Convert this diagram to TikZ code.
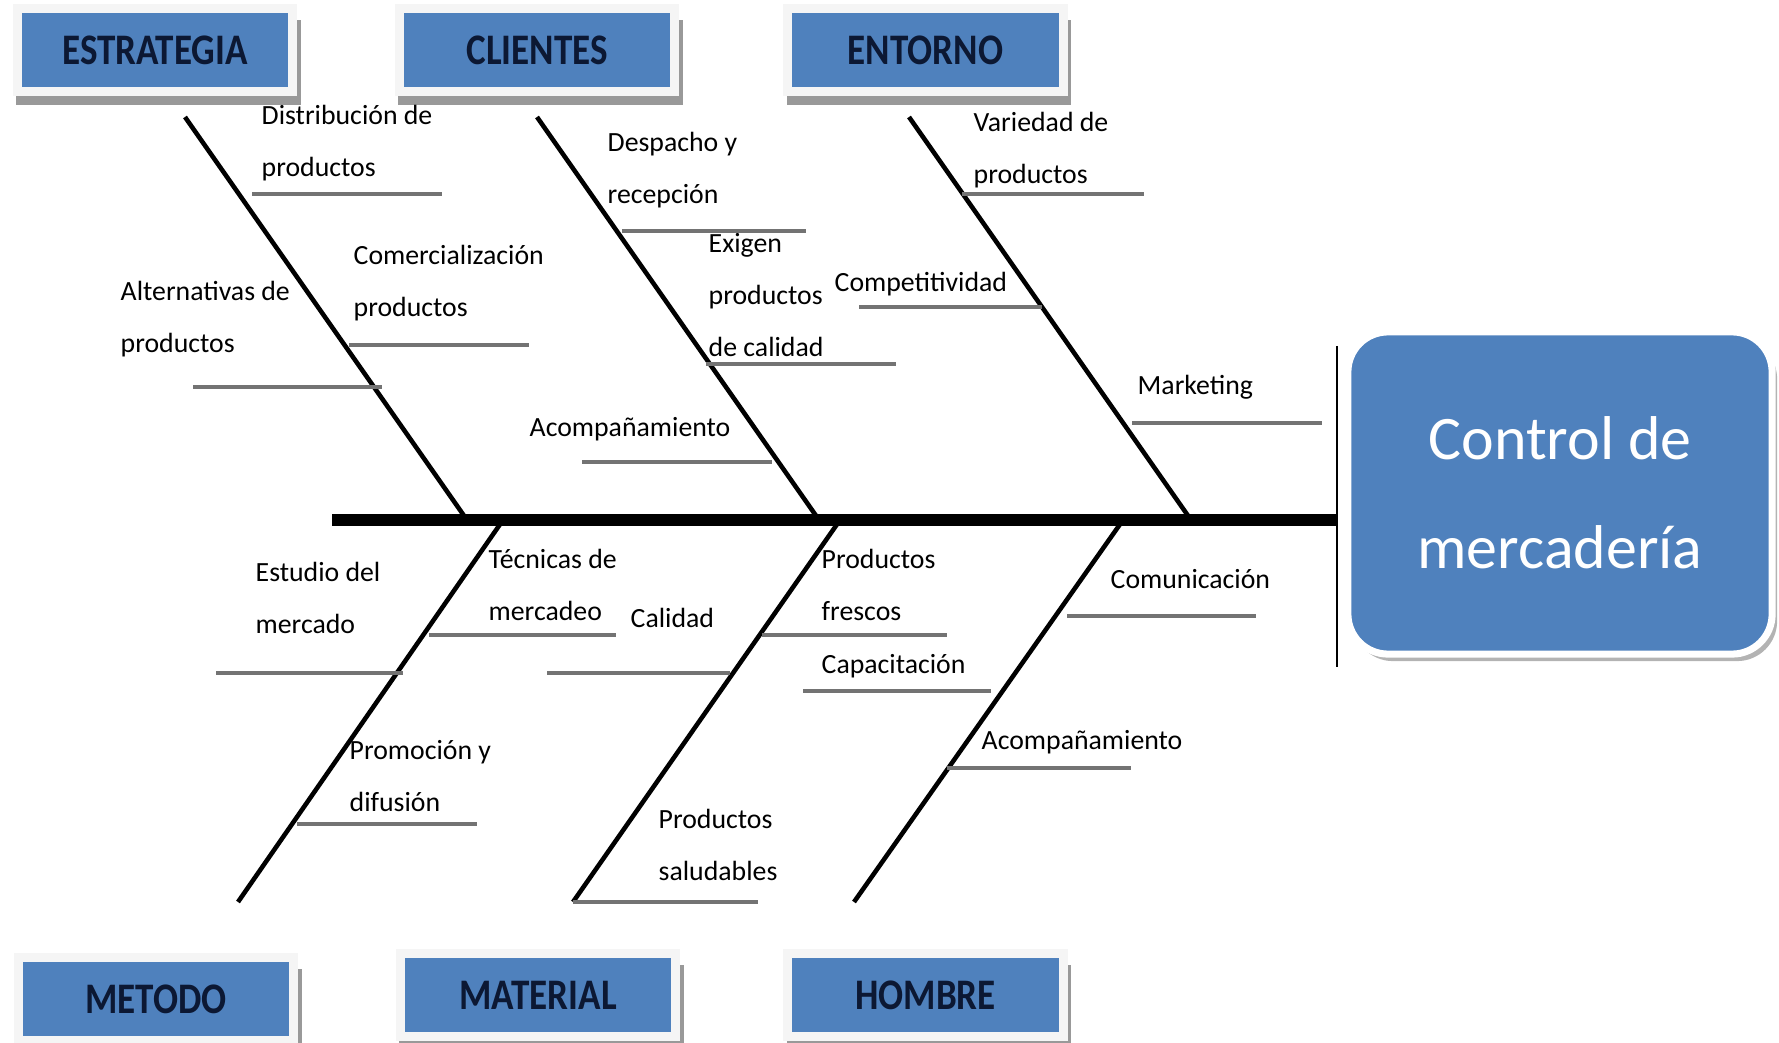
\documentclass[tikz,border=0pt]{standalone}
\usepackage{fontspec}
\setmainfont{Carlito}
\newfontfamily\catfont[FakeStretch=0.85]{Carlito}
\usepackage{xcolor}
\usetikzlibrary{calc, shadows, positioning}
\definecolor{boxblue}{HTML}{4F81BD}
\definecolor{boxtext}{HTML}{0C1833}
\tikzset{
    catnode/.style = {draw=black!4, line width=2.56pt, fill=boxblue, rectangle, inner sep=0em,
      minimum width=2.75cm, minimum height=0.82cm, node distance=0em, text=boxtext,
      font=\catfont\bfseries\fontsize{12.4}{13}\selectfont,
      drop shadow={shadow xshift=0.35mm, shadow yshift=-1.2mm, shadow scale=1.035, fill=black!40, opacity=1}},
    effectnode/.style = {draw=white, line width=2pt, fill=boxblue, rectangle, rounded corners=0.4cm,
      minimum width=4.24cm, minimum height=3.22cm, text=white, align=center,
      font=\fontsize{17.6}{31}\selectfont,
      drop shadow={shadow xshift=0.5mm, shadow yshift=-0.7mm, fill=black!50, opacity=0.6}},
    textnode/.style = {draw=none, fill=none, rectangle, inner sep=0em, anchor=west, align=left,
      font=\fontsize{7.9}{14.8}\selectfont},
    spine/.style = {black, line width=3.2pt},
    bone/.style = {black, line width=1.3pt},
    subline/.style = {black!55, line width=1pt},
}
\begin{document}
\begin{tikzpicture}[x=0.01cm, y=-0.01cm]
    \useasboundingbox (0,0) rectangle (1779,1043);

    % categorias
    \node [catnode, name=estrategia] at (155,50) {ESTRATEGIA};
    \node [catnode, name=clientes, right of=estrategia, xshift=3.82cm] {CLIENTES};
    \node [catnode, name=entorno, right of=clientes, xshift=3.88cm] {ENTORNO};
    \node [catnode, name=metodo] at (156,999) {METODO};
    \node [catnode, name=material, right of=metodo, xshift=3.82cm, yshift=0.04cm] {MATERIAL};
    \node [catnode, name=hombre, right of=material, xshift=3.87cm] {HOMBRE};

    % efecto
    \node [effectnode, name=control] at (1560,493) {Control de\\mercadería};

    % espina
    \coordinate (head) at (1337,520);
    \coordinate (tail) at (332,520);
    \draw [line width=0.7pt] ($(head)+(0,-174)$) -- ($(head)+(0,147)$);
    \draw [spine] (tail) -- (head);

    \coordinate (estrategia-top) at (185,117);
    \coordinate (estrategia-end) at (467,520);
    \coordinate (clientes-top) at (537,117);
    \coordinate (clientes-end) at (819,520);
    \coordinate (entorno-top) at (909,117);
    \coordinate (entorno-end) at (1191,520);
    \coordinate (metodo-top) at (503,520);
    \coordinate (metodo-end) at (238,902);
    \coordinate (material-top) at (840,520);
    \coordinate (material-end) at (573,902);
    \coordinate (hombre-top) at (1123,520);
    \coordinate (hombre-end) at (854,902);
    \draw [bone] (estrategia-top) -- (estrategia-end);
    \draw [bone] (clientes-top) -- (clientes-end);
    \draw [bone] (entorno-top) -- (entorno-end);
    \draw [bone] (metodo-top) -- (metodo-end);
    \draw [bone] (material-top) -- (material-end);
    \draw [bone] (hombre-top) -- (hombre-end);

    % estrategia
    \node [textnode, name=distrib] at (261,143) {Distribución de\\productos};
    \node [textnode, name=comerc] at (353,283) {Comercialización\\productos};
    \node [textnode, name=altern] at (120,319) {Alternativas de\\productos};
    \draw [subline] (252,194) -- (442,194);
    \draw [subline] (349,345) -- (529,345);
    \draw [subline] (193,387) -- (382,387);

    % clientes
    \node [textnode, name=despacho] at (607,170) {Despacho y\\recepción};
    \node [textnode, name=exigen] at (708,295) {Exigen\\productos\\de calidad};
    \node [textnode, name=acomp1] at (529,429) {Acompañamiento};
    \draw [subline] (622,231) -- (806,231);
    \draw [subline] (706,364) -- (896,364);
    \draw [subline] (582,462) -- (772,462);

    % entorno
    \node [textnode, name=variedad] at (973,150) {Variedad de\\productos};
    \node [textnode, name=compet] at (834,284) {Competitividad};
    \node [textnode, name=marketing] at (1137,387) {Marketing};
    \draw [subline] (962,194) -- (1144,194);
    \draw [subline] (859,307) -- (1042,307);
    \draw [subline] (1132,423) -- (1322,423);

    % metodo
    \node [textnode, name=tecnicas] at (488,585) {Técnicas de\\mercadeo};
    \node [textnode, name=estudio] at (255,598) {Estudio del\\mercado};
    \node [textnode, name=promo] at (349,776) {Promoción y\\difusión};
    \draw [subline] (429,635) -- (616,635);
    \draw [subline] (216,673) -- (403,673);
    \draw [subline] (297,824) -- (477,824);

    % material
    \node [textnode, name=calidad] at (630,618) {Calidad};
    \node [textnode, name=frescos] at (821,585) {Productos\\frescos};
    \node [textnode, name=saludables] at (658,845) {Productos\\saludables};
    \draw [subline] (547,673) -- (730,673);
    \draw [subline] (762,635) -- (947,635);
    \draw [subline] (573,902) -- (758,902);

    % hombre
    \node [textnode, name=comunic] at (1110,579) {Comunicación};
    \node [textnode, name=capacit] at (821,666) {Capacitación};
    \node [textnode, name=acomp2] at (981,742) {Acompañamiento};
    \draw [subline] (1067,616) -- (1256,616);
    \draw [subline] (803,691) -- (991,691);
    \draw [subline] (947,768) -- (1131,768);
\end{tikzpicture}
\end{document}
